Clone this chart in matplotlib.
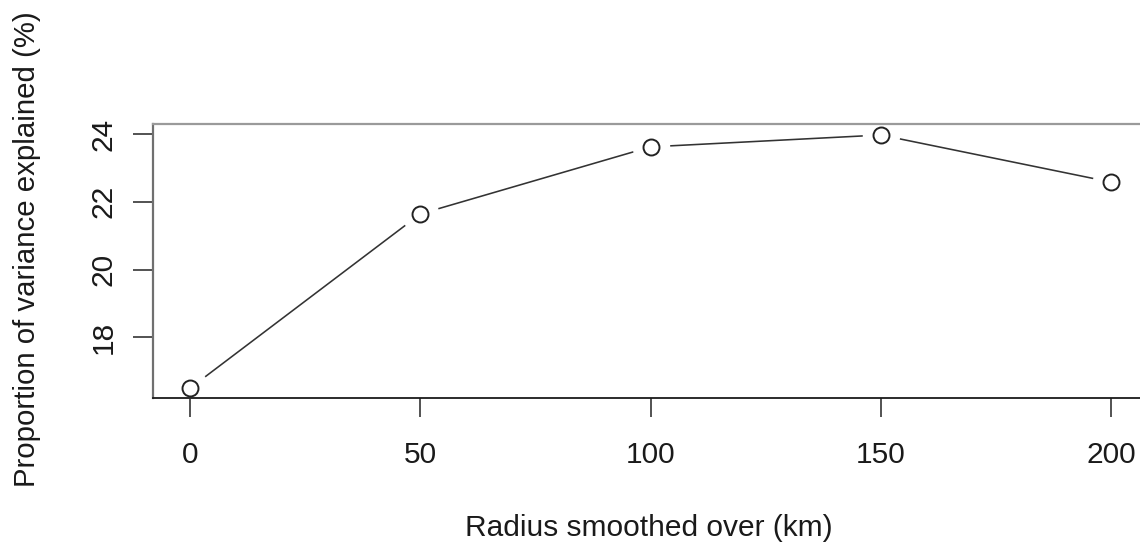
import matplotlib.pyplot as plt

# Daten
radius = [0, 50, 100, 150, 200]
variance = [16.5, 21.64, 23.62, 23.97, 22.58]
xticks = [0, 50, 100, 150, 200]
yticks = [18, 20, 22, 24]

plt.rcParams['font.family'] = ['Liberation Sans', 'DejaVu Sans']
plt.rcParams['text.color'] = '#1a1a1a'

fig = plt.figure(figsize=(11.4, 5.45), dpi=100)
ax = fig.add_axes([0.1345, 0.2692, 0.8724, 0.5033])

# type="b": Linie mit Luecken um die Punkte
ax.plot(radius, variance, color='#333333', lw=1.15, zorder=2)
ax.plot(radius, variance, ls='none', marker='o', ms=26, mfc='white', mec='white', zorder=2.1)
ax.plot(radius, variance, ls='none', marker='o', ms=11.5, mfc='white', mec='#222222', mew=1.4, zorder=3)

ax.set_xlim(-8, 208)
ax.set_ylim(16.2, 24.295)
ax.set_xticks(xticks)
ax.set_yticks(yticks)
ax.set_xticklabels([str(t) for t in xticks], fontsize=21.5, color='#1a1a1a')
ax.set_yticklabels([str(t) for t in yticks], fontsize=21.5, rotation=90, va='center', color='#1a1a1a')

ax.tick_params(axis='x', length=13.5, width=1.3, color='#444444', pad=17)
ax.tick_params(axis='y', length=14.5, width=1.3, color='#444444', pad=11)

ax.spines['right'].set_visible(False)
ax.spines['top'].set_color('#9a9a9a')
ax.spines['top'].set_linewidth(1.6)
ax.spines['left'].set_color('#707070')
ax.spines['left'].set_linewidth(1.6)
ax.spines['bottom'].set_color('#1a1a1a')
ax.spines['bottom'].set_linewidth(1.3)
for s in ax.spines.values():
    s.set_zorder(2.5)

fig.text(0.5693, 1 - 528 / 545, 'Radius smoothed over (km)', fontsize=21.5,
         ha='center', va='center')
fig.text(27.5 / 1140, 1 - 249 / 545, 'Proportion of variance explained (%)', fontsize=21.2,
         ha='center', va='center', rotation=90)

fig.savefig('out.png', dpi=100)
